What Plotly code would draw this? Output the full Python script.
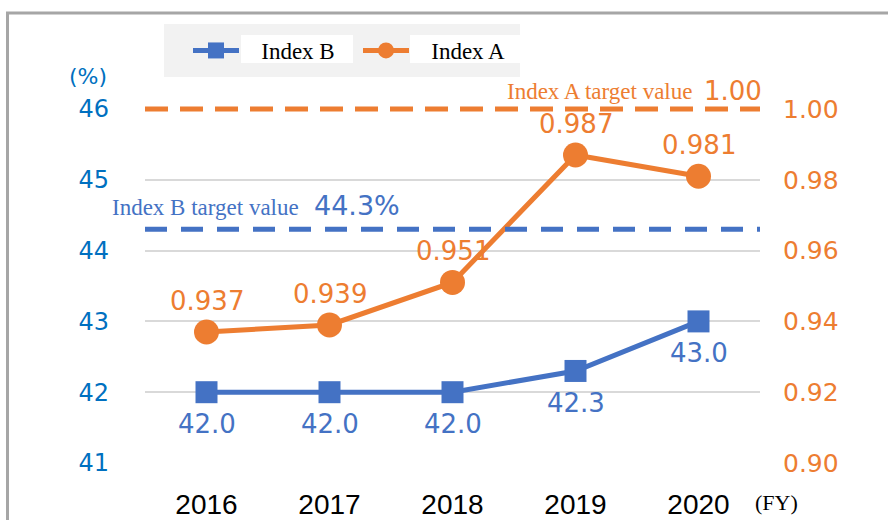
import plotly.graph_objects as go

years = ["2016", "2017", "2018", "2019", "2020"]
index_b = [42.0, 42.0, 42.0, 42.3, 43.0]
index_a = [0.937, 0.939, 0.951, 0.987, 0.981]
target_b = 44.3
target_a = 1.00
left_range = [41, 46]
right_range = [0.90, 1.00]
left_ticks = [41, 42, 43, 44, 45, 46]
right_ticks = [0.90, 0.92, 0.94, 0.96, 0.98, 1.00]

BLUE = "#4472C4"
ORANGE = "#ED7D31"
AXBLUE = "#0070C0"
NUM_FONT = "DejaVu Sans"
SERIF = "Liberation Serif"

W, H = 888, 520
L, R, T, B = 145, 128, 109, 57
pw, ph = W - L - R, H - T - B


def px(x):
    return (x - L) / pw


def py(y):
    return (H - B - y) / ph


def frac(v, rng):
    return (v - rng[0]) / (rng[1] - rng[0])


PAD = "&#8194;&#8197;"

fig = go.Figure()
fig.add_trace(go.Scatter(
    x=years, y=index_b, name=PAD + "Index B", mode="lines+markers",
    line=dict(color=BLUE, width=5),
    marker=dict(symbol="square", size=22, color=BLUE),
    yaxis="y",
))
fig.add_trace(go.Scatter(
    x=years, y=index_a, name=PAD + "Index A", mode="lines+markers",
    line=dict(color=ORANGE, width=5),
    marker=dict(symbol="circle", size=25, color=ORANGE),
    yaxis="y2",
))

# target lines (paper-referenced so they are not clipped at the plot edge)
fig.add_shape(type="line", xref="paper", yref="paper", x0=0, x1=1,
              y0=frac(target_a, right_range), y1=frac(target_a, right_range),
              line=dict(color=ORANGE, width=5, dash="23px,12px"))
fig.add_shape(type="line", xref="paper", yref="paper", x0=0, x1=1,
              y0=frac(target_b, left_range), y1=frac(target_b, left_range),
              line=dict(color=BLUE, width=5, dash="22px,14px"))

# frame border (top + left)
fig.add_shape(type="path", xref="paper", yref="paper",
              path=f"M {px(7.5)} {py(525)} L {px(7.5)} {py(13)} L {px(900)} {py(13)}",
              line=dict(color="#A6A6A6", width=3))

# legend background panel and white text boxes
fig.add_shape(type="rect", xref="paper", yref="paper", layer="below",
              x0=px(164), x1=px(520), y0=py(77), y1=py(24),
              fillcolor="#F2F2F2", line=dict(width=0))
fig.add_shape(type="rect", xref="paper", yref="paper", layer="below",
              x0=px(241), x1=px(353), y0=py(63), y1=py(35),
              fillcolor="white", line=dict(width=0))
fig.add_shape(type="rect", xref="paper", yref="paper", layer="below",
              x0=px(410), x1=px(520), y0=py(63), y1=py(35),
              fillcolor="white", line=dict(width=0))

annotations = []
for i, v in enumerate(index_a):
    annotations.append(dict(x=i, y=v, xref="x", yref="y2", text=f"{v:.3f}",
                            showarrow=False, yshift=31, xanchor="center",
                            font=dict(family=NUM_FONT, size=26, color=ORANGE)))
for i, v in enumerate(index_b):
    annotations.append(dict(x=i, y=v, xref="x", yref="y", text=f"{v:.1f}",
                            showarrow=False, yshift=-32, xanchor="center",
                            font=dict(family=NUM_FONT, size=26, color=BLUE)))

annotations += [
    dict(x=px(694), y=target_a, xref="paper", yref="y2", xanchor="right",
         yanchor="middle", yshift=18, showarrow=False, text="Index A target value",
         font=dict(family=SERIF, size=23, color=ORANGE)),
    dict(x=px(702), y=target_a, xref="paper", yref="y2", xanchor="left",
         yanchor="middle", yshift=18, showarrow=False, text=f"{target_a:.2f}",
         font=dict(family=NUM_FONT, size=26, color=ORANGE)),
    dict(x=px(301), y=target_b, xref="paper", yref="y", xanchor="right",
         yanchor="middle", yshift=22, showarrow=False, text="Index B target value",
         font=dict(family=SERIF, size=23, color=BLUE)),
    dict(x=px(312), y=target_b, xref="paper", yref="y", xanchor="left",
         yanchor="middle", yshift=24, showarrow=False, text=f"{target_b}%",
         font=dict(family=NUM_FONT, size=27, color=BLUE)),
    dict(x=px(88), y=py(76), xref="paper", yref="paper", showarrow=False,
         xanchor="center", yanchor="middle", text="(%)",
         font=dict(family=NUM_FONT, size=22, color=AXBLUE)),
    dict(x=px(776), y=py(502), xref="paper", yref="paper", showarrow=False,
         xanchor="center", yanchor="middle", text="(FY)",
         font=dict(family=SERIF, size=22, color="black")),
]

fig.update_layout(
    width=W, height=H,
    margin=dict(l=L, r=R, t=T, b=B, pad=0, autoexpand=False),
    paper_bgcolor="white", plot_bgcolor="white",
    showlegend=True,
    legend=dict(
        orientation="h", xref="container", yref="container",
        x=188 / W, y=1 - 29 / H, xanchor="left", yanchor="top",
        bgcolor="rgba(0,0,0,0)", font=dict(family=SERIF, size=23, color="black"),
        itemwidth=46, entrywidth=109, entrywidthmode="pixels",
    ),
    xaxis=dict(
        type="category", range=[-0.5, 4.5], showgrid=False, zeroline=False,
        showline=False, ticks="", ticklabelstandoff=22, automargin=False,
        tickfont=dict(family="Liberation Sans", size=28, color="black"),
    ),
    yaxis=dict(
        range=left_range, tickvals=left_ticks, ticktext=[str(t) for t in left_ticks],
        showgrid=True, gridcolor="#D9D9D9", gridwidth=2, zeroline=False,
        showline=False, ticks="", ticklabelstandoff=35, automargin=False,
        tickfont=dict(family=NUM_FONT, size=24, color=AXBLUE),
    ),
    yaxis2=dict(
        range=right_range, overlaying="y", side="right",
        tickvals=right_ticks, ticktext=[f"{t:.2f}" for t in right_ticks],
        showgrid=False, zeroline=False, showline=False, ticks="",
        ticklabelstandoff=22, automargin=False,
        tickfont=dict(family=NUM_FONT, size=25, color=ORANGE),
    ),
    annotations=annotations,
)

fig.write_html("out.html", config={"displayModeBar": False},
               post_script="document.body.style.margin='0px';document.body.style.overflow='hidden';")
